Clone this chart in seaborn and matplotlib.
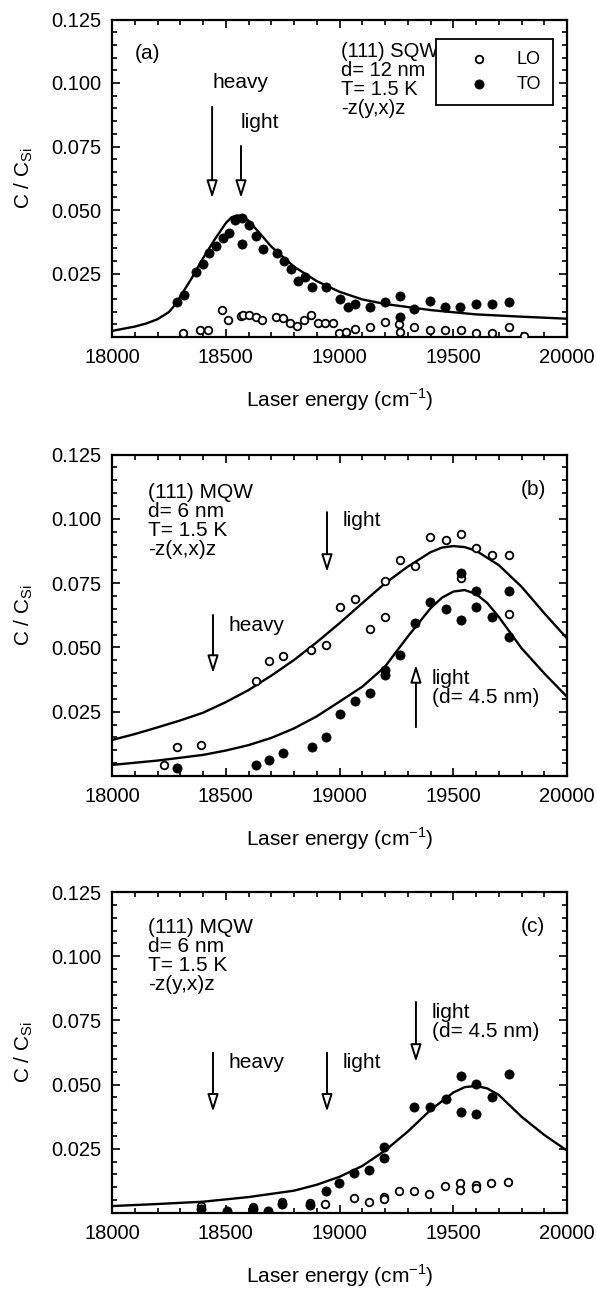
import matplotlib
matplotlib.use('Agg')
import matplotlib.pyplot as plt
from matplotlib.ticker import MultipleLocator
import seaborn as sns

# ---------------- panel (a): (111) SQW, -z(y,x)z ----------------
a_lo_e = [18314, 18389, 18424, 18483, 18508, 18567, 18575, 18604, 18632, 18661, 18720, 18751,
          18781, 18811, 18843, 18874, 18904, 18937, 18971, 18997, 19028, 19068, 19132, 19198,
          19261, 19264, 19329, 19397, 19464, 19533, 19602, 19670, 19743, 19813]
a_lo_c = [0.0015, 0.0028, 0.0028, 0.0107, 0.0067, 0.0081, 0.0087, 0.0087, 0.0078, 0.0067, 0.0078, 0.0076,
          0.0055, 0.0044, 0.0067, 0.0087, 0.0055, 0.0055, 0.0055, 0.0017, 0.0019, 0.0031, 0.0041, 0.0059,
          0.0050, 0.0021, 0.0041, 0.0028, 0.0028, 0.0028, 0.0017, 0.0017, 0.0038, 0.0002]
a_to_e = [18286, 18315, 18369, 18398, 18425, 18457, 18486, 18514, 18541, 18573, 18571, 18604,
          18633, 18663, 18724, 18754, 18786, 18816, 18849, 18880, 18941, 19002, 19037, 19069,
          19132, 19198, 19264, 19264, 19329, 19399, 19464, 19531, 19602, 19670, 19743]
a_to_c = [0.0139, 0.0167, 0.0256, 0.0289, 0.0330, 0.0357, 0.0389, 0.0409, 0.0461, 0.0469, 0.0368, 0.0440,
          0.0398, 0.0348, 0.0330, 0.0299, 0.0269, 0.0219, 0.0237, 0.0198, 0.0198, 0.0150, 0.0117, 0.0130,
          0.0118, 0.0139, 0.0160, 0.0079, 0.0111, 0.0140, 0.0120, 0.0120, 0.0130, 0.0130, 0.0139]
a_fit_e = [18000, 18100, 18150, 18200, 18250, 18270, 18300, 18350, 18400, 18450, 18500, 18525,
           18550, 18575, 18600, 18650, 18700, 18800, 18900, 19000, 19100, 19200, 19400, 19600,
           19800, 20000]
a_fit_c = [0.0024, 0.0041, 0.0053, 0.0070, 0.0098, 0.0119, 0.0159, 0.0231, 0.0310, 0.0382, 0.0448, 0.0471,
           0.0479, 0.0474, 0.0458, 0.0408, 0.0356, 0.0277, 0.0220, 0.0178, 0.0148, 0.0130, 0.0106, 0.0089,
           0.0080, 0.0072]

# ---------------- panel (b): (111) MQW, -z(x,x)z ----------------
b_lo_e = [18230, 18284, 18390, 18632, 18691, 18752, 18876, 18940, 19002, 19069, 19132, 19199,
          19199, 19268, 19330, 19398, 19467, 19533, 19533, 19602, 19672, 19745, 19745]
b_lo_c = [0.0041, 0.0111, 0.0120, 0.0370, 0.0448, 0.0468, 0.0490, 0.0508, 0.0658, 0.0690, 0.0570, 0.0620,
          0.0760, 0.0840, 0.0818, 0.0930, 0.0919, 0.0940, 0.0769, 0.0887, 0.0860, 0.0860, 0.0629]
b_to_e = [18285, 18632, 18691, 18752, 18877, 18940, 19002, 19070, 19133, 19199, 19199, 19268,
          19330, 19399, 19467, 19533, 19533, 19602, 19602, 19672, 19745, 19745]
b_to_c = [0.0030, 0.0041, 0.0062, 0.0090, 0.0111, 0.0152, 0.0241, 0.0291, 0.0321, 0.0391, 0.0411, 0.0470,
          0.0596, 0.0678, 0.0648, 0.0789, 0.0608, 0.0718, 0.0658, 0.0618, 0.0718, 0.0540]
b_fit1_e = [18000, 18100, 18200, 18300, 18400, 18500, 18600, 18700, 18800, 18900, 19000, 19100,
            19200, 19300, 19400, 19450, 19500, 19550, 19600, 19700, 19800, 19900, 20000]
b_fit1_c = [0.0140, 0.0163, 0.0189, 0.0216, 0.0246, 0.0287, 0.0334, 0.0390, 0.0451, 0.0520, 0.0594, 0.0672,
            0.0749, 0.0814, 0.0870, 0.0888, 0.0894, 0.0890, 0.0876, 0.0820, 0.0736, 0.0633, 0.0535]
b_fit2_e = [18000, 18200, 18400, 18500, 18600, 18700, 18800, 18900, 19000, 19100, 19200, 19300,
            19400, 19450, 19500, 19550, 19600, 19650, 19700, 19800, 19900, 20000]
b_fit2_c = [0.0043, 0.0060, 0.0082, 0.0099, 0.0120, 0.0148, 0.0185, 0.0232, 0.0289, 0.0347, 0.0425, 0.0542,
            0.0652, 0.0693, 0.0717, 0.0723, 0.0708, 0.0672, 0.0619, 0.0497, 0.0399, 0.0308]

# ---------------- panel (c): (111) MQW, -z(y,x)z ----------------
c_lo_e = [18390, 18621, 18746, 18870, 18935, 19065, 19129, 19197, 19197, 19263, 19327, 19395,
          19463, 19530, 19530, 19600, 19600, 19668, 19741]
c_lo_c = [0.0026, 0.0023, 0.0043, 0.0040, 0.0035, 0.0057, 0.0044, 0.0063, 0.0053, 0.0086, 0.0086, 0.0074,
          0.0105, 0.0118, 0.0088, 0.0109, 0.0096, 0.0116, 0.0122]
c_to_e = [18390, 18504, 18621, 18684, 18746, 18870, 18939, 18999, 19065, 19130, 19197, 19197,
          19329, 19398, 19466, 19533, 19533, 19602, 19602, 19672, 19745]
c_to_c = [0.0016, 0.0006, 0.0014, 0.0009, 0.0035, 0.0030, 0.0086, 0.0116, 0.0156, 0.0167, 0.0214, 0.0256,
          0.0414, 0.0414, 0.0444, 0.0533, 0.0393, 0.0502, 0.0386, 0.0453, 0.0543]
c_fit_e = [18000, 18200, 18400, 18600, 18800, 18900, 19000, 19100, 19200, 19300, 19400, 19500,
           19550, 19600, 19650, 19700, 19800, 19900, 20000]
c_fit_c = [0.0027, 0.0035, 0.0044, 0.0062, 0.0087, 0.0110, 0.0141, 0.0183, 0.0243, 0.0317, 0.0401, 0.0469,
           0.0490, 0.0495, 0.0485, 0.0460, 0.0375, 0.0304, 0.0243]

x_ticks = [18000, 18500, 19000, 19500, 20000]
y_ticks = [0.025, 0.050, 0.075, 0.100, 0.125]

sns.set_style('ticks')
plt.rcParams['font.family'] = ['Liberation Sans', 'DejaVu Sans']
plt.rcParams['mathtext.fontset'] = 'custom'
plt.rcParams['mathtext.rm'] = 'Liberation Sans'
for key in ('text.color', 'axes.labelcolor', 'xtick.color', 'ytick.color', 'axes.edgecolor'):
    plt.rcParams[key] = 'black'

TXT = 15
fig = plt.figure(figsize=(5.97, 12.92), dpi=100)
left, width = 112 / 597, 455 / 597
ax_a = fig.add_axes([left, 1 - 337 / 1292, width, 317.5 / 1292])
ax_b = fig.add_axes([left, 1 - 776 / 1292, width, 321.5 / 1292])
ax_c = fig.add_axes([left, 1 - 1213 / 1292, width, 321 / 1292])


def style(ax):
    ax.set_xlim(18000, 20000)
    ax.set_ylim(0, 0.125)
    ax.set_xticks(x_ticks)
    ax.set_xticklabels([str(t) for t in x_ticks], fontsize=14.5)
    ax.set_yticks(y_ticks)
    ax.set_yticklabels(['%.3f' % t for t in y_ticks], fontsize=14.5)
    ax.xaxis.set_minor_locator(MultipleLocator(100))
    ax.yaxis.set_minor_locator(MultipleLocator(0.005))
    ax.tick_params(which='both', direction='in', top=True, right=True, width=1.2, color='black')
    ax.tick_params(which='major', length=6, pad=8)
    ax.tick_params(which='minor', length=3.5)
    for s in ax.spines.values():
        s.set_linewidth(1.6)
        s.set_color('black')
    ax.set_xlabel('Laser energy (cm$^{\\mathregular{-1}}$)', fontsize=TXT)
    ax.set_ylabel('C / C$_{\\mathregular{Si}}$', fontsize=TXT)
    ax.xaxis.set_label_coords(0.5, -0.155)
    ax.yaxis.set_label_coords(-0.17, 0.5)


def points(ax, e, c, filled, label=None):
    if filled:
        sns.scatterplot(x=e, y=c, ax=ax, color='black', edgecolor='black', s=44,
                        linewidth=0.5, label=label, zorder=3)
    else:
        sns.scatterplot(x=e, y=c, ax=ax, color='white', edgecolor='black', s=30,
                        linewidth=1.3, label=label, zorder=3)


def fit(ax, e, c):
    sns.lineplot(x=e, y=c, ax=ax, color='black', linewidth=1.7, sort=False, estimator=None, zorder=2)


def arrow(ax, x, y_tail, y_tip):
    ax.annotate('', xy=(x, y_tip), xytext=(x, y_tail),
                arrowprops=dict(arrowstyle='-|>,head_length=0.7,head_width=0.22', fc='white',
                                ec='black', lw=1.4, mutation_scale=15, shrinkA=0, shrinkB=0))


# panel (a)
fit(ax_a, a_fit_e, a_fit_c)
points(ax_a, a_lo_e, a_lo_c, False, 'LO')
points(ax_a, a_to_e, a_to_c, True, 'TO')
style(ax_a)
leg = ax_a.legend(loc='upper left', bbox_to_anchor=(0.712, 0.9386), borderaxespad=0, fontsize=13,
                  handlelength=3.5, handletextpad=0.3, borderpad=0.65, labelspacing=0.45,
                  fancybox=False, framealpha=1, edgecolor='black')
leg.get_frame().set_linewidth(1.3)
ax_a.text(18158, 0.1118, '(a)', fontsize=TXT, ha='center', va='center')
ax_a.text(18563, 0.100, 'heavy', fontsize=TXT, ha='center', va='center')
ax_a.text(18651, 0.0846, 'light', fontsize=TXT, ha='center', va='center')
ax_a.text(19005, 0.116, '(111) SQW\nd= 12 nm\nT= 1.5 K\n-z(y,x)z', fontsize=14.5,
          ha='left', va='top', linespacing=1.0)
arrow(ax_a, 18440, 0.0906, 0.0547)
arrow(ax_a, 18567, 0.0752, 0.0547)

# panel (b)
fit(ax_b, b_fit1_e, b_fit1_c)
fit(ax_b, b_fit2_e, b_fit2_c)
points(ax_b, b_lo_e, b_lo_c, False)
points(ax_b, b_to_e, b_to_c, True)
style(ax_b)
ax_b.text(18158, 0.1139, '(111) MQW\nd= 6 nm\nT= 1.5 K\n-z(x,x)z', fontsize=TXT,
          ha='left', va='top', linespacing=1.0)
ax_b.text(19851, 0.1112, '(b)', fontsize=TXT, ha='center', va='center')
ax_b.text(19015, 0.0995, 'light', fontsize=TXT, ha='left', va='center')
ax_b.text(18510, 0.0587, 'heavy', fontsize=TXT, ha='left', va='center')
ax_b.text(19407, 0.0342, 'light\n(d= 4.5 nm)', fontsize=TXT, ha='left', va='center', linespacing=1.0)
arrow(ax_b, 18945, 0.1026, 0.0793)
arrow(ax_b, 18444, 0.0626, 0.0400)
arrow(ax_b, 19336, 0.0190, 0.0432)

# panel (c)
fit(ax_c, c_fit_e, c_fit_c)
points(ax_c, c_lo_e, c_lo_c, False)
points(ax_c, c_to_e, c_to_c, True)
style(ax_c)
ax_c.text(18158, 0.115, '(111) MQW\nd= 6 nm\nT= 1.5 K\n-z(y,x)z', fontsize=TXT,
          ha='left', va='top', linespacing=1.0)
ax_c.text(19851, 0.1115, '(c)', fontsize=TXT, ha='center', va='center')
ax_c.text(18510, 0.0588, 'heavy', fontsize=TXT, ha='left', va='center')
ax_c.text(19015, 0.0588, 'light', fontsize=TXT, ha='left', va='center')
ax_c.text(19407, 0.0744, 'light\n(d= 4.5 nm)', fontsize=TXT, ha='left', va='center', linespacing=1.0)
arrow(ax_c, 18444, 0.0624, 0.0394)
arrow(ax_c, 18945, 0.0624, 0.0394)
arrow(ax_c, 19336, 0.0822, 0.0588)

for ax in (ax_b, ax_c):
    if ax.get_legend() is not None:
        ax.get_legend().remove()

fig.savefig('out.png', dpi=100)
